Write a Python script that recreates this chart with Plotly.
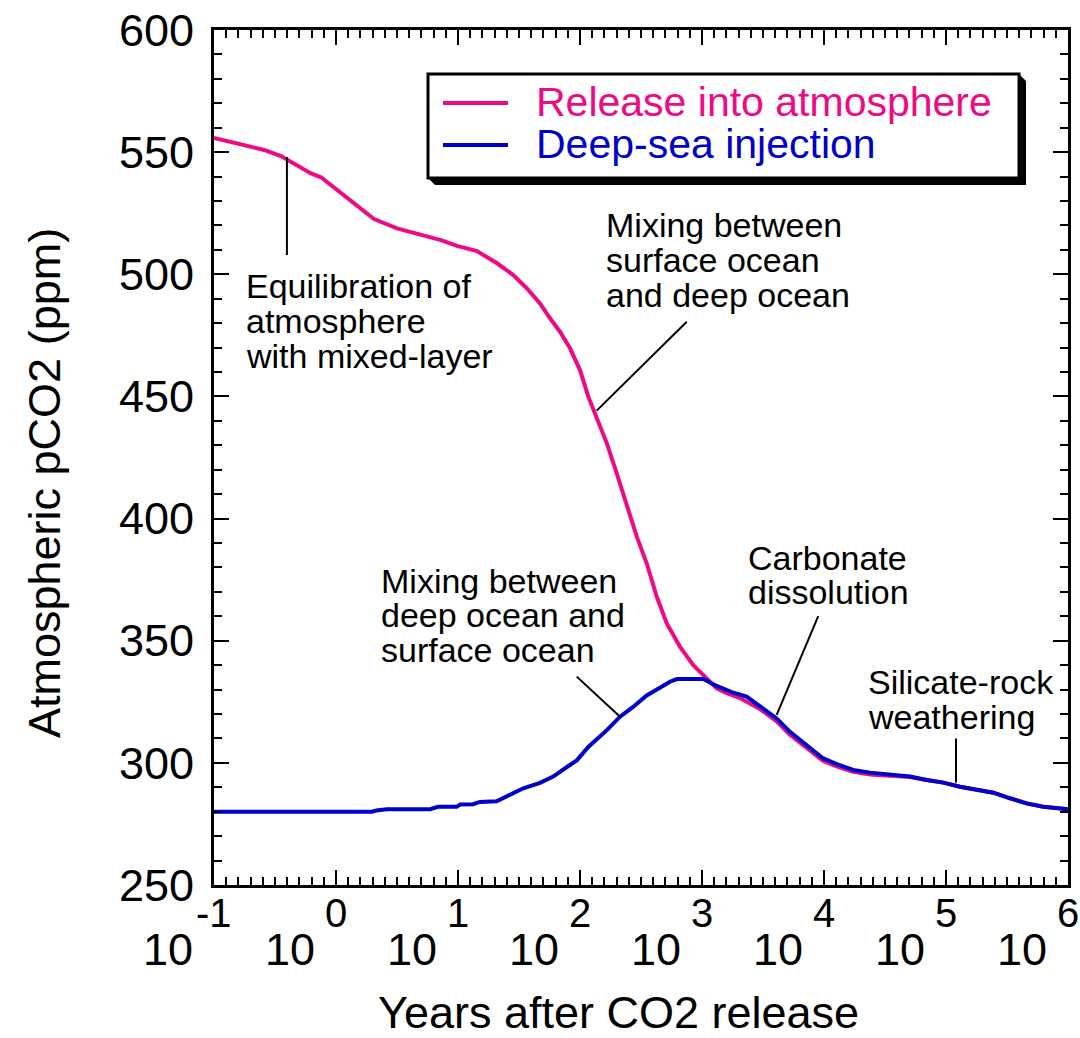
import numpy as np
import plotly.graph_objects as go

# ---------------- data ----------------
years_release = [0.1, 0.146, 0.186, 0.257, 0.354, 0.453, 0.624, 0.753, 1.02, 1.23, 1.60, 2.05,
                 3.16, 4.98, 7.26, 9.82, 14.3, 20.9, 28.4, 36.6, 47.0, 56.8, 68.5, 82.8, 100,
                 117, 137, 166, 200, 242, 292, 352, 426, 514, 661, 849, 1094, 1318, 1592, 2046,
                 2985, 4093, 5260, 7211, 9863, 12700, 17380, 23820, 36980, 50700, 69500, 95100,
                 130300, 178600, 244300, 335000, 458000, 628000, 1000000]
ppm_release = [555.8, 553.9, 552.5, 550.9, 548.4, 545.4, 541.3, 539.7, 534.5, 531.8, 527.0, 522.6,
               518.8, 516.4, 514.0, 511.6, 509.5, 504.5, 499.7, 494.3, 488.1, 482.0, 476.5, 469.7,
               460.8, 449.9, 441.7, 430.8, 418.5, 404.9, 392.6, 381.7, 368.0, 357.1, 347.5, 340.0,
               334.6, 330.5, 328.5, 326.5, 322.0, 317.0, 311.5, 306.0, 300.8, 298.6, 296.3, 295.2,
               294.5, 294.2, 293.0, 291.9, 290.2, 289.2, 287.8, 285.5, 283.4, 282.0, 281.0]

years_injection = [0.1, 1.96, 2.14, 2.6, 5.9, 6.86, 9.77, 10.4, 13.3, 15.1, 20.7, 26.7, 34.3, 47.0,
                   60.3, 77.6, 94, 117, 166, 213, 274, 352, 453, 547, 621, 1026, 1318, 1807, 2323,
                   2985, 4093, 5260, 7211, 9863, 12700, 17380, 23820, 36980, 50700, 69500, 95100,
                   130300, 178600, 244300, 335000, 458000, 628000, 1000000]
ppm_injection = [280, 280, 280.5, 281, 281, 282, 282, 283, 283.1, 284, 284.3, 286.8, 289.6, 291.8,
                 294.4, 298.2, 301, 306.5, 313.4, 318.9, 323, 327.6, 331, 333.2, 334.3, 334.3, 331.5,
                 328.7, 327.1, 323, 318.2, 312.7, 307.3, 301.8, 299.5, 297.1, 296, 295, 294.4, 293,
                 291.9, 290.2, 289.2, 287.8, 285.5, 283.4, 282, 281]

series_names = ["Release into atmosphere", "Deep-sea injection"]
x_tick_exponents = [-1, 0, 1, 2, 3, 4, 5, 6]
y_tick_values = [250, 300, 350, 400, 450, 500, 550, 600]

# annotation texts: (lines, left x in years, y of each line in ppm)
labels = [
    (["Equilibration of", "atmosphere", "with mixed-layer"], 0.176, [495.2, 480.9, 466.5]),
    (["Mixing between", "surface ocean", "and deep ocean"], 157, [520.2, 506.0, 491.5]),
    (["Mixing between", "deep ocean and", "surface ocean"], 2.25, [374.4, 360.5, 346.2]),
    (["Carbonate", "dissolution"], 2296, [383.9, 369.9]),
    (["Silicate-rock", "weathering"], 22080, [332.9, 318.9]),
]
# leader lines: (years pair, ppm pair)
leaders = [
    ([0.396, 0.396], [548.0, 507.9]),
    ([750, 137], [480.6, 444.2]),
    ([94, 213], [335.3, 318.9]),
    ([8970, 4093], [360.1, 319.6]),
    ([120800, 120800], [310.0, 291.9]),
]

# ---------------- style ----------------
PINK = "#EE0A82"
BLUE = "#0000CC"
FONT = "Liberation Sans, Arial, Helvetica, sans-serif"
W, H = 1080, 1038
ML, MR, MT, MB = 214, 12, 30, 153
PW, PH = W - ML - MR, H - MT - MB


def px_x(px):
    return (px - ML) / PW


def px_y(py):
    return 1 - (py - MT) / PH


fig = go.Figure()
fig.add_trace(go.Scatter(x=years_release, y=ppm_release, mode="lines", name=series_names[0],
                         line=dict(color=PINK, width=4), showlegend=False))
fig.add_trace(go.Scatter(x=years_injection, y=ppm_injection, mode="lines", name=series_names[1],
                         line=dict(color=BLUE, width=4), showlegend=False))
for xs, ys in leaders:
    fig.add_trace(go.Scatter(x=xs, y=ys, mode="lines", line=dict(color="black", width=2),
                             showlegend=False, hoverinfo="skip"))

annotations = []
for lines, xl, ys in labels:
    for txt, yv in zip(lines, ys):
        annotations.append(dict(x=np.log10(xl), y=yv, xref="x", yref="y", text=txt,
                                showarrow=False, xanchor="left", yanchor="middle",
                                font=dict(family=FONT, size=34, color="black")))

# x tick labels in "10 with raised exponent" style
for e in x_tick_exponents:
    annotations.append(dict(x=e, y=px_y(949), xref="x", yref="paper", text="10",
                            showarrow=False, xanchor="right", yanchor="middle", xshift=-19,
                            font=dict(family=FONT, size=45, color="black")))
    annotations.append(dict(x=e, y=px_y(913), xref="x", yref="paper", text=str(e),
                            showarrow=False, xanchor="center", yanchor="middle",
                            font=dict(family=FONT, size=40, color="black")))

# axis titles
annotations.append(dict(x=px_x(618), y=px_y(1012), xref="paper", yref="paper",
                        text="Years after CO2 release", showarrow=False,
                        xanchor="center", yanchor="middle",
                        font=dict(family=FONT, size=45, color="black")))
annotations.append(dict(x=px_x(44), y=px_y(483), xref="paper", yref="paper",
                        text="Atmospheric pCO2 (ppm)", showarrow=False, textangle=-90,
                        xanchor="center", yanchor="middle",
                        font=dict(family=FONT, size=45, color="black")))

# legend (manual, with drop shadow)
shapes = []
bx0, bx1, by0, by1 = 428, 1019, 74, 178
sh = 7
shapes.append(dict(type="path", xref="paper", yref="paper", fillcolor="black",
                   line=dict(width=0),
                   path=(f"M {px_x(bx1)} {px_y(by0)} L {px_x(bx1 + sh)} {px_y(by0 + sh)} "
                         f"L {px_x(bx1 + sh)} {px_y(by1 + sh)} L {px_x(bx0 + sh)} {px_y(by1 + sh)} "
                         f"L {px_x(bx0)} {px_y(by1)} Z")))
shapes.append(dict(type="rect", xref="paper", yref="paper", x0=px_x(bx0), x1=px_x(bx1),
                   y0=px_y(by1), y1=px_y(by0), fillcolor="white",
                   line=dict(color="black", width=3)))
legend_rows = [(series_names[0], PINK, 103), (series_names[1], BLUE, 145)]
for name, col, py in legend_rows:
    shapes.append(dict(type="line", xref="paper", yref="paper", x0=px_x(443), x1=px_x(508),
                       y0=px_y(py), y1=px_y(py), line=dict(color=col, width=4)))
    annotations.append(dict(x=px_x(534), y=px_y(py - 1), xref="paper", yref="paper", text=name,
                            showarrow=False, xanchor="left", yanchor="middle",
                            font=dict(family=FONT, size=41, color=col)))

fig.update_xaxes(type="log", range=[-1, 6], showgrid=False, zeroline=False, automargin=False,
                 showline=True, linecolor="black", linewidth=3, mirror="allticks",
                 ticks="inside", ticklen=15, tickwidth=2, tickcolor="black",
                 tickmode="linear", tick0=0, dtick=1, showticklabels=False,
                 minor=dict(ticks="inside", ticklen=8, tickwidth=2, tickcolor="black",
                            tickmode="linear", tick0=0, dtick=0.1, showgrid=False))
fig.update_yaxes(range=[250, 600], showgrid=False, zeroline=False, automargin=False,
                 showline=True, linecolor="black", linewidth=3, mirror="allticks",
                 ticks="inside", ticklen=15, tickwidth=2, tickcolor="black",
                 tickmode="array", tickvals=y_tick_values,
                 tickfont=dict(family=FONT, size=45, color="black"), ticklabelstandoff=8,
                 minor=dict(ticks="inside", ticklen=8, tickwidth=2, tickcolor="black",
                            dtick=10, showgrid=False))

fig.update_layout(width=W, height=H, margin=dict(l=ML, r=MR, t=MT, b=MB),
                  plot_bgcolor="white", paper_bgcolor="white",
                  annotations=annotations, shapes=shapes, showlegend=False,
                  font=dict(family=FONT, color="black"))

fig.write_html("out.html")
